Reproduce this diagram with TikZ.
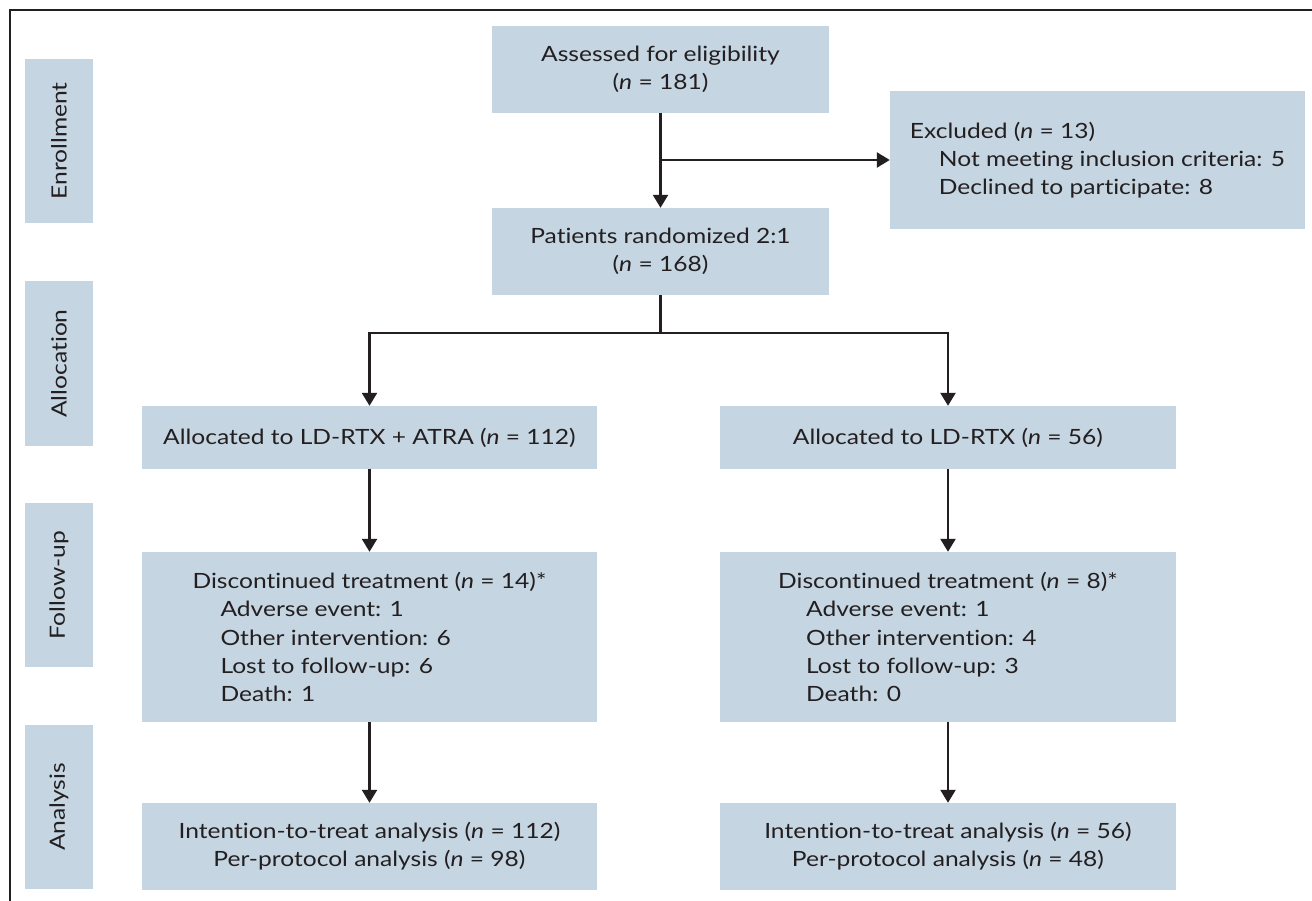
\documentclass[tikz,border=0pt]{standalone}
\usepackage{fontspec}
\setmainfont{Lato}[FakeStretch=1.17, Ligatures=NoCommon]
\usetikzlibrary{arrows.meta}
\definecolor{boxfill}{RGB}{197,213,226}
\definecolor{ink}{RGB}{35,31,32}
\begin{document}
\begin{tikzpicture}[x=1pt,y=-1pt,
  every node/.style={font=\fontsize{21}{28.3}\selectfont, text=ink},
  box/.style={fill=boxfill, inner sep=0pt, align=center},
  lbox/.style={fill=boxfill, inner sep=0pt, align=left},
  side/.style={fill=boxfill, inner sep=0pt, minimum width=68pt, minimum height=164pt},
  conn/.style={draw=ink, line width=2.4pt},
  arr/.style={conn, -{Triangle[width=15pt,length=13pt]}},
  frame/.style={draw=ink, line width=2.6pt}
]
\useasboundingbox (0,0) rectangle (1312,901);
\fill[white] (0,0) rectangle (1312,901);
\draw[frame] (1312,10) -- (10,10) -- (10,901);

% side labels
\node[side] (enr) at (59,141) {};
\node[rotate=90] (enrt) at (enr.center) {Enrollment};
\node[side] (alc) at (59,363.5) {};
\node[rotate=90] (alct) at (alc.center) {Allocation};
\node[side] (fol) at (59,585) {};
\node[rotate=90] (folt) at (fol.center) {Follow-up};
\node[side] (ana) at (59,807) {};
\node[rotate=90] (anat) at (ana.center) {Analysis};

% main boxes
\node[box, minimum width=337pt, minimum height=87pt] (assess) at (660.5,69.5)
  {Assessed for eligibility\\(\textit{n} = 181)};
\node[lbox, minimum width=415pt, minimum height=138pt] (excl) at (1097.5,160)
  {Excluded (\textit{n} = 13)\\\hspace*{29pt}Not meeting inclusion criteria: 5\\\hspace*{29pt}Declined to participate: 8};
\node[box, minimum width=337pt, minimum height=87pt] (rand) at (660.5,251.5)
  {Patients randomized 2:1\\(\textit{n} = 168)};

\node[box, minimum width=455pt, minimum height=63pt] (allocL) at (369.5,437.5)
  {Allocated to LD-RTX + ATRA (\textit{n} = 112)};
\node[box, minimum width=456pt, minimum height=63pt] (allocR) at (948,437.5)
  {Allocated to LD-RTX (\textit{n} = 56)};

\node[lbox, minimum width=455pt, minimum height=170pt] (discL) at (369.5,637)
  {Discontinued treatment (\textit{n} = 14)*\\\hspace*{28pt}Adverse event: 1\\\hspace*{28pt}Other intervention: 6\\\hspace*{28pt}Lost to follow-up: 6\\\hspace*{28pt}Death: 1};
\node[lbox, minimum width=456pt, minimum height=170pt] (discR) at (948,637)
  {Discontinued treatment (\textit{n} = 8)*\\\hspace*{28pt}Adverse event: 1\\\hspace*{28pt}Other intervention: 4\\\hspace*{28pt}Lost to follow-up: 3\\\hspace*{28pt}Death: 0};

\node[box, minimum width=455pt, minimum height=87pt] (anaL) at (369.5,846.5)
  {Intention-to-treat analysis (\textit{n} = 112)\\Per-protocol analysis (\textit{n} = 98)};
\node[box, minimum width=456pt, minimum height=87pt] (anaR) at (948,846.5)
  {Intention-to-treat analysis (\textit{n} = 56)\\Per-protocol analysis (\textit{n} = 48)};

% connectors
\draw[arr] (assess.south) -- (rand.north);
\draw[arr] (assess.south |- excl.west) -- (excl.west);
\coordinate (split) at (660.5,333);
\draw[arr] (rand.south) -- (split) -| (allocL.north);
\draw[arr] (split) -| (allocR.north);
\draw[arr] (allocL.south) -- (discL.north);
\draw[arr] (allocR.south) -- (discR.north);
\draw[arr] (discL.south) -- (anaL.north);
\draw[arr] (discR.south) -- (anaR.north);
\end{tikzpicture}
\end{document}
